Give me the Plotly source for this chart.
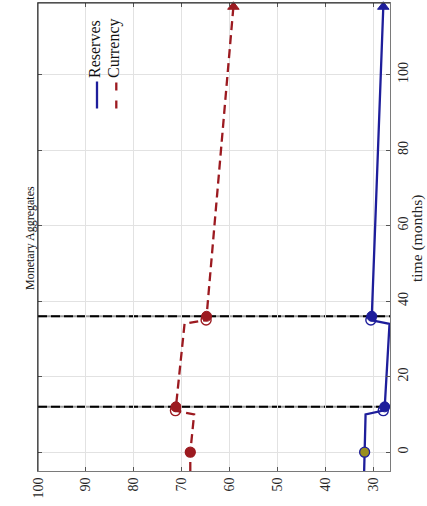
import plotly.graph_objects as go

# Values (rotated MATLAB-style figure)
months = [-5, 0, 10, 11, 12, 34, 35, 36, 118]
reserves = [31.9, 31.8, 31.6, 27.9, 27.6, 26.6, 30.5, 30.3, 27.9]
currency = [68.2, 68.2, 67.4, 71.3, 71.2, 69.4, 64.9, 64.8, 59.2]

event_months = [12, 36]
value_ticks = [30, 40, 50, 60, 70, 80, 90, 100]
time_ticks = [0, 20, 40, 60, 80, 100]

# which points get which marker
start_idx = [1]
open_idx = [3, 6]
filled_idx = [4, 7]
end_idx = [8]

blue = "#1e1e9b"
red = "#9c1a20"
olive = "#9a8f1e"
font_family = "Liberation Serif, Times New Roman, serif"


def pick(seq, idx):
    return [seq[i] for i in idx]


fig = go.Figure()

fig.add_trace(go.Scatter(x=reserves, y=months, mode="lines",
                         line=dict(color=blue, width=2.3)))
fig.add_trace(go.Scatter(x=currency, y=months, mode="lines",
                         line=dict(color=red, width=2.3, dash="9px,5px")))

for vals, col, start_fill in [(reserves, blue, olive), (currency, red, red)]:
    fig.add_trace(go.Scatter(
        x=pick(vals, open_idx), y=pick(months, open_idx), mode="markers",
        marker=dict(symbol="circle-open", size=10, color=col, line=dict(width=1.4)),
    ))
    fig.add_trace(go.Scatter(
        x=pick(vals, filled_idx), y=pick(months, filled_idx), mode="markers",
        marker=dict(symbol="circle", size=10, color=col, line=dict(color=col, width=1)),
    ))
    fig.add_trace(go.Scatter(
        x=pick(vals, start_idx), y=pick(months, start_idx), mode="markers",
        marker=dict(symbol="circle", size=10, color=start_fill, line=dict(color=col, width=1.3)),
    ))
    fig.add_trace(go.Scatter(
        x=pick(vals, end_idx), y=pick(months, end_idx), mode="markers", cliponaxis=False,
        marker=dict(symbol="triangle-up", size=10, color=col, line=dict(color=col, width=1)),
    ))

shapes = []
for m in event_months:
    shapes.append(dict(type="line", xref="paper", x0=0, x1=1, y0=m, y1=m, layer="between",
                       line=dict(color="#9a9a9a", width=2)))
    shapes.append(dict(type="line", xref="paper", x0=0, x1=1, y0=m, y1=m, layer="between",
                       line=dict(color="black", width=2, dash="9px,4px")))

# dark left / top box edges
shapes.append(dict(type="line", xref="paper", yref="paper", x0=0, x1=0, y0=0, y1=1,
                   line=dict(color="#262626", width=1)))
shapes.append(dict(type="line", xref="paper", yref="paper", x0=0, x1=1, y0=1, y1=1,
                   line=dict(color="#262626", width=1)))

# legend samples (rotated legend)
W, H, L, T = 352, 468, 38, 3


def px_x(p):
    return (p - L) / W


def px_y(p):
    return (T + H - p) / H


shapes.append(dict(type="line", xref="paper", yref="paper",
                   x0=px_x(97), x1=px_x(97), y0=px_y(108.5), y1=px_y(81.5),
                   line=dict(color=blue, width=2.3)))
shapes.append(dict(type="line", xref="paper", yref="paper",
                   x0=px_x(116.3), x1=px_x(116.3), y0=px_y(108.5), y1=px_y(81.5),
                   line=dict(color=red, width=2.3, dash="8px,10px")))

annotations = [
    dict(text="Monetary Aggregates", xref="paper", yref="paper", x=px_x(30), y=px_y(238),
         textangle=-90, showarrow=False, xanchor="center", yanchor="middle",
         font=dict(size=12, family=font_family, color="#111")),
    dict(text="time (months)", xref="paper", yref="paper", x=px_x(417), y=px_y(239),
         textangle=-90, showarrow=False, xanchor="center", yanchor="middle",
         font=dict(size=15.5, family=font_family, color="#262626")),
    dict(text="Reserves", xref="paper", yref="paper", x=px_x(95), y=px_y(80),
         textangle=-90, showarrow=False, xanchor="center", yanchor="bottom",
         font=dict(size=16, family=font_family, color="#111")),
    dict(text="Currency", xref="paper", yref="paper", x=px_x(114), y=px_y(80),
         textangle=-90, showarrow=False, xanchor="center", yanchor="bottom",
         font=dict(size=16, family=font_family, color="#111")),
]

axis_common = dict(
    ticks="inside", ticklen=4, tickcolor="#555", showline=True, linecolor="#7a7a7a",
    linewidth=1, mirror="ticks", showgrid=True, gridcolor="#e2e2e2", gridwidth=1,
    zeroline=False, tickangle=-90, automargin=False,
    tickfont=dict(size=14, family=font_family, color="#262626"),
)

fig.update_layout(
    width=427, height=506,
    margin=dict(l=L, r=427 - L - W, t=T, b=506 - T - H),
    plot_bgcolor="white", paper_bgcolor="white",
    showlegend=False,
    shapes=shapes, annotations=annotations,
    xaxis=dict(range=[100, 26.5], tickvals=value_ticks, **axis_common),
    yaxis=dict(range=[-5, 119], tickvals=time_ticks, side="right", **axis_common),
)

# the page's default body margin would shift the figure by 8px
fig.write_html("out.html", config={"displayModeBar": False},
               post_script="document.body.style.margin='0';")
